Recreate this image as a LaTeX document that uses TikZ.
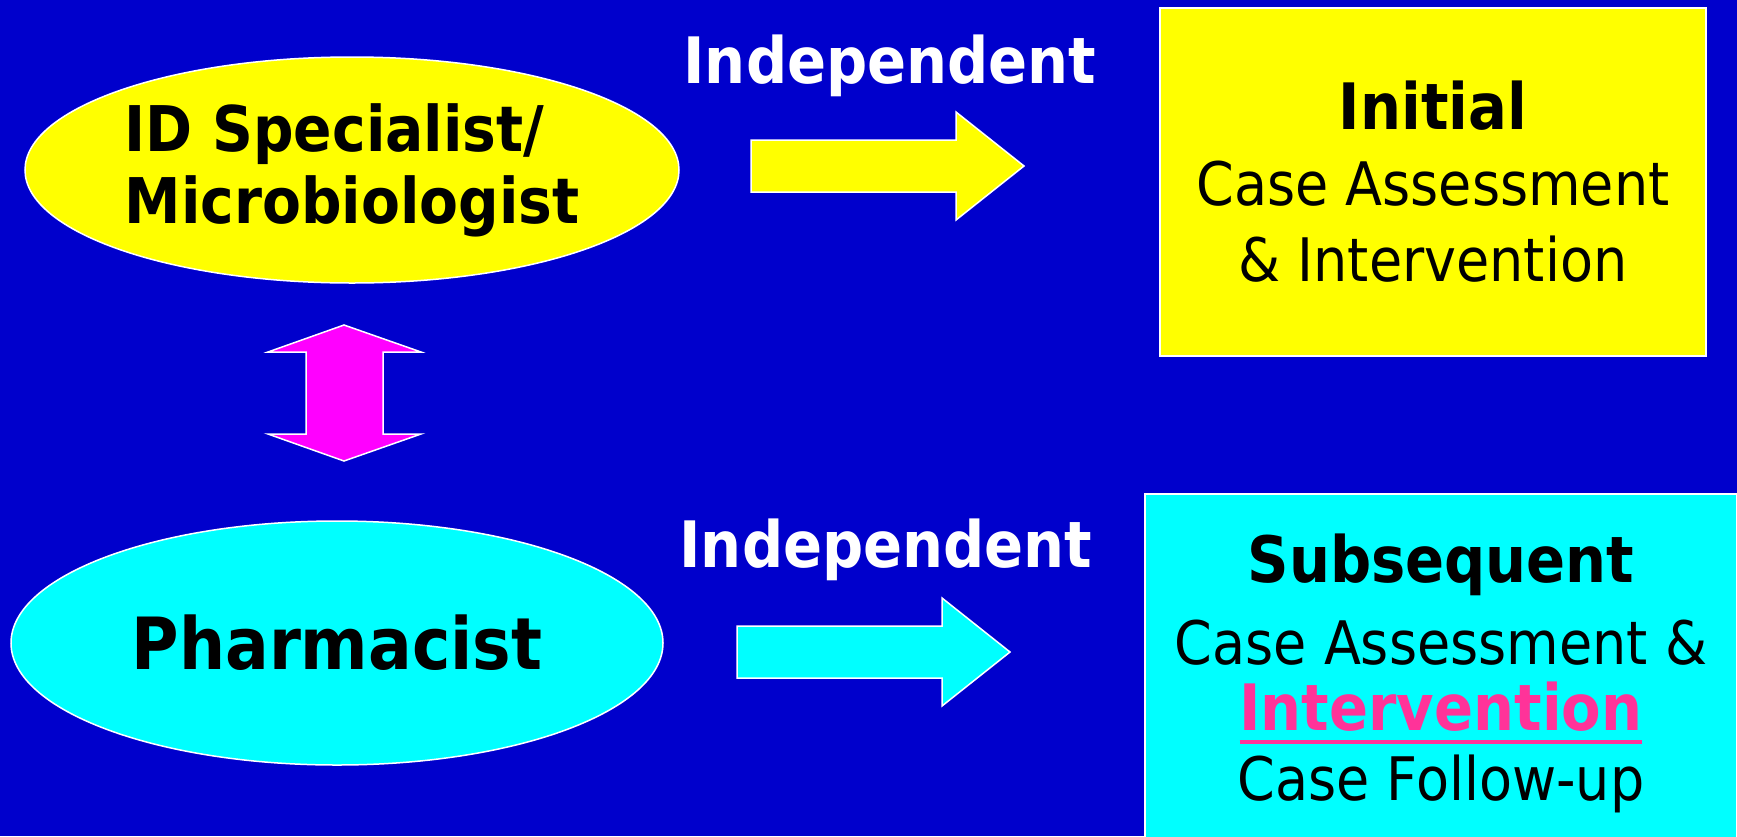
\documentclass[tikz,border=0pt]{standalone}
\usepackage{fontspec}
\setmainfont{DejaVu Sans}[FakeStretch=0.9]
\usetikzlibrary{shapes.geometric}
\definecolor{slideblue}{HTML}{0000CC}
\definecolor{hotpink}{HTML}{FF3399}
\definecolor{lemon}{HTML}{FFFF00}
\definecolor{aqua}{HTML}{00FFFF}
\definecolor{fuchsia}{HTML}{FF00FF}
\newcommand{\thickul}[1]{\vtop{\hbox{#1}\kern9pt\hrule height 4pt}}
\tikzset{
  blob/.style={ellipse, draw=white, line width=1.5pt, inner sep=0pt, align=center},
  card/.style={rectangle, draw=white, line width=1.5pt, inner sep=0pt, align=center},
  blockarrow/.style={draw=white, line width=1.5pt, line join=miter},
  bigbold/.style={font=\fontsize{64}{70}\selectfont\bfseries},
  plain/.style={font=\fontsize{60}{76}\selectfont}
}
\begin{document}
\begin{tikzpicture}[x=1pt,y=-1pt]
  \useasboundingbox (0,0) rectangle (1737,836);
  \fill[slideblue] (0,0) rectangle (1737,836);
  \clip (0,0) rectangle (1737,836);
  % the two people
  \node[blob, align=left, fill=lemon, minimum width=654pt, minimum height=226pt, font=\fontsize{63}{72}\selectfont\bfseries] (idspec) at (352,170) {ID Specialist/\\Microbiologist};
  \node[blob, fill=aqua, minimum width=652pt, minimum height=244pt, font=\fontsize{72}{80}\selectfont\bfseries] (pharm) at (337,643) {Pharmacist};
  % what they do
  \node[card, fill=lemon, minimum width=546pt, minimum height=348pt, plain] (initial) at (1433,182)
    {{\fontsize{64}{76}\selectfont\bfseries Initial}\\Case Assessment\\\& Intervention};
  \node[card, fill=aqua, minimum width=592pt, minimum height=358pt, plain] (subseq) at (1441,673)
    {{\fontsize{64}{76}\selectfont\bfseries Subsequent}\\[6pt]Case Assessment \&\\[-10pt]
     {\fontsize{64}{76}\selectfont\bfseries\color{hotpink}\thickul{Intervention}}\\[-6pt]Case Follow-up};
  % labels over the arrows
  \node[bigbold, text=white, anchor=base] (indtop) at (890,83) {Independent};
  \node[bigbold, text=white, anchor=base] (indbot) at (886,567) {Independent};
  % block arrows
  \draw[blockarrow, fill=lemon] (751,140) -- ++(205,0) -- ++(0,-28) -- ++(68,54) -- ++(-68,54) -- ++(0,-28) -- ++(-205,0) -- cycle;
  \draw[blockarrow, fill=aqua] (737,626) -- ++(205,0) -- ++(0,-28) -- ++(68,54) -- ++(-68,54) -- ++(0,-28) -- ++(-205,0) -- cycle;
  \draw[blockarrow, fill=fuchsia] (344,325) -- (421,352) -- (383,352) -- (383,434) -- (421,434) -- (344,461)
    -- (268,434) -- (306,434) -- (306,352) -- (268,352) -- cycle;
\end{tikzpicture}
\end{document}
